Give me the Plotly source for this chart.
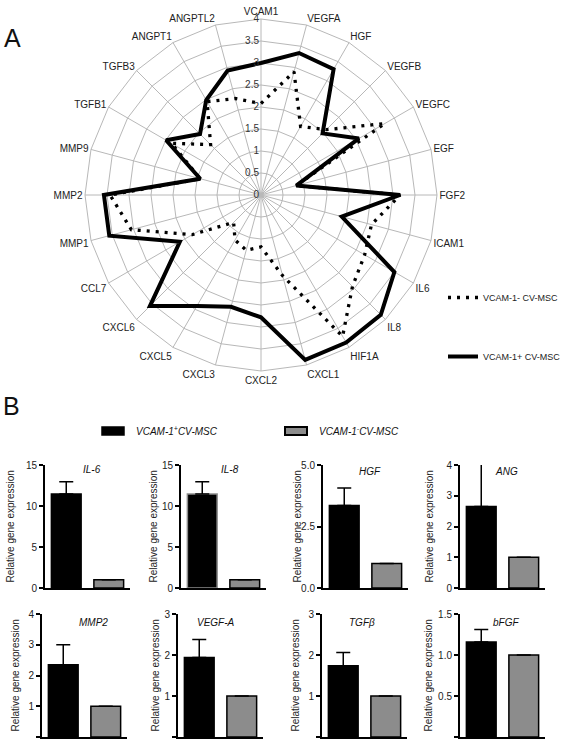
import plotly.graph_objects as go

# ---------------- Panel A data (radar) ----------------
genes = ["VCAM1", "VEGFA", "HGF", "VEGFB", "VEGFC", "EGF", "FGF2", "ICAM1",
         "IL6", "IL8", "HIF1A", "CXCL1", "CXCL2", "CXCL3", "CXCL5", "CXCL6",
         "CCL7", "MMP1", "MMP2", "MMP9", "TGFB1", "TGFB3", "ANGPT1", "ANGPTL2"]
vcam_pos = [3.0, 3.34, 3.3, 1.98, 2.57, 0.83, 3.16, 1.9, 3.5, 3.85, 3.87, 3.88,
            2.78, 2.63, 2.91, 3.57, 2.13, 3.57, 3.57, 1.43, 2.49, 1.96, 2.49, 2.93]
vcam_neg = [2.08, 2.9, 1.8, 2.1, 3.25, 0.83, 3.16, 2.6, 2.72, 2.94, 3.71, 1.9,
            1.18, 1.3, 1.18, 0.88, 1.8, 3.05, 3.43, 1.43, 2.35, 1.62, 2.45, 2.27]
radial_ticks = [0, 0.5, 1, 1.5, 2, 2.5, 3, 3.5, 4]

# ---------------- Panel B data (bars) ----------------
bar_genes = ["IL-6", "IL-8", "HGF", "ANG", "MMP2", "VEGF-A", "TGFβ", "bFGF"]
pos_mean = [11.45, 11.45, 3.35, 2.65, 2.35, 1.94, 1.74, 1.16]
pos_err = [1.5, 1.5, 0.72, 2.0, 0.65, 0.44, 0.32, 0.15]
neg_mean = [1, 1, 1, 1, 1, 1, 1, 1]
y_max = [15, 15, 5, 4, 4, 3, 3, 1.5]
y_dtick = [5, 5, 2.5, 1, 1, 1, 1, 0.5]
y_fmt = ["d", "d", ".1f", "d", "d", "d", "d", ".1f"]

W, H = 567, 742
FONT = "Liberation Sans, Arial, sans-serif"


def px(x):
    return x / W


def py(y):
    return 1 - y / H


fig = go.Figure()

fig.add_trace(go.Scatterpolar(
    r=vcam_neg + [vcam_neg[0]], theta=genes + [genes[0]], mode="lines",
    line=dict(color="black", width=3.3, dash="3px,6px"),
    name="VCAM-1- CV-MSC", legendgroup="neg"))
fig.add_trace(go.Scatterpolar(
    r=vcam_pos + [vcam_pos[0]], theta=genes + [genes[0]], mode="lines",
    line=dict(color="black", width=4),
    name="VCAM-1+ CV-MSC", legendgroup="pos"))

# bar subplot pixel domains
xdom = [(45, 130), (181, 266), (323, 408), (460, 545),
        (42, 127), (178, 263), (322, 407), (460, 545)]
ydom = [(465, 588)] * 4 + [(614, 737)] * 4
title_pos = [(92, 469), (230, 469), (370, 471), (506, 471),
             (93, 622), (216, 622), (362, 622), (506, 622)]
ytitle_x = [10, 153, 297, 429, 15, 155, 295, 428]

layout_axes = {}
annotations = []
for i in range(8):
    k = i + 1
    xa = "x" if k == 1 else f"x{k}"
    ya = "y" if k == 1 else f"y{k}"
    outline = ["#8c8c8c", "#000000"] if bar_genes[i] == "IL-8" else ["#000000", "#000000"]
    fig.add_trace(go.Bar(
        x=[0, 1], y=[pos_mean[i], neg_mean[i]], width=0.7,
        marker=dict(color=["#000000", "#8c8c8c"], line=dict(color=outline, width=1.5)),
        error_y=dict(type="data", symmetric=False, array=[pos_err[i], 0],
                     arrayminus=[0, 0], color="black", thickness=1.5, width=7),
        xaxis=xa, yaxis=ya, showlegend=False, cliponaxis=False))
    x0, x1 = xdom[i]
    y0, y1 = ydom[i]
    layout_axes["xaxis" if k == 1 else f"xaxis{k}"] = dict(
        domain=[px(x0), px(x1)], anchor=ya, range=[-0.5, 1.5],
        showticklabels=False, ticks="", showline=True, linecolor="black",
        linewidth=2, showgrid=False, zeroline=False, fixedrange=True)
    layout_axes["yaxis" if k == 1 else f"yaxis{k}"] = dict(
        domain=[py(y1), py(y0)], anchor=xa, range=[0, y_max[i]],
        tick0=0, dtick=y_dtick[i], tickformat=y_fmt[i], ticks="outside",
        ticklen=4, tickwidth=1.5, tickcolor="black", showline=True,
        linecolor="black", linewidth=2, showgrid=False, zeroline=False,
        tickfont=dict(size=10, color="#222", family=FONT), fixedrange=True)
    tx, ty = title_pos[i]
    annotations.append(dict(text=f"<i>{bar_genes[i]}</i>", x=px(tx), y=py(ty),
                            xref="paper", yref="paper", showarrow=False,
                            xanchor="center", yanchor="middle",
                            font=dict(size=10, color="#111", family=FONT)))
    annotations.append(dict(text="Relative gene expression", x=px(ytitle_x[i]),
                            y=py((y0 + y1) / 2), xref="paper", yref="paper",
                            showarrow=False, textangle=-90, xanchor="center",
                            yanchor="middle",
                            font=dict(size=10, color="#222", family=FONT)))

# panel letters
annotations.append(dict(text="A", x=px(2), y=py(38), xref="paper", yref="paper",
                        showarrow=False, xanchor="left", yanchor="middle",
                        font=dict(size=25, color="#111", family=FONT)))
annotations.append(dict(text="B", x=px(1), y=py(406), xref="paper", yref="paper",
                        showarrow=False, xanchor="left", yanchor="middle",
                        font=dict(size=25, color="#111", family=FONT)))
# panel B legend text
annotations.append(dict(text="<i>VCAM-1<sup>+</sup>CV-MSC</i>", x=px(134), y=py(431),
                        xref="paper", yref="paper", showarrow=False,
                        xanchor="left", yanchor="middle",
                        font=dict(size=10, color="#111", family=FONT)))
annotations.append(dict(text="<i>VCAM-1<sup>-</sup>CV-MSC</i>", x=px(317), y=py(431),
                        xref="paper", yref="paper", showarrow=False,
                        xanchor="left", yanchor="middle",
                        font=dict(size=10, color="#111", family=FONT)))
shapes = [
    dict(type="rect", xref="paper", yref="paper", x0=px(102), x1=px(124),
         y0=py(435), y1=py(427), fillcolor="black", line=dict(color="black", width=1.5)),
    dict(type="rect", xref="paper", yref="paper", x0=px(285), x1=px(307),
         y0=py(435), y1=py(427), fillcolor="#8c8c8c", line=dict(color="black", width=2)),
]

fig.update_layout(
    width=W, height=H, autosize=False,
    margin=dict(l=0, r=0, t=0, b=0, pad=0, autoexpand=False),
    paper_bgcolor="white", plot_bgcolor="white",
    font=dict(family=FONT, color="#222"),
    polar=dict(
        domain=dict(x=[px(261 - 176), px(261 + 176)], y=[py(371), py(19)]),
        bgcolor="white", gridshape="linear",
        radialaxis=dict(range=[0, 4], tickvals=radial_ticks, angle=90,
                        tickangle=90,
                        side="counterclockwise", showline=False, ticks="",
                        gridcolor="#b8b8b8", gridwidth=1,
                        tickfont=dict(size=10, color="#333", family=FONT)),
        angularaxis=dict(direction="clockwise", rotation=90, type="category",
                         categoryarray=genes, gridcolor="#b8b8b8",
                         linecolor="#b8b8b8", linewidth=1, ticks="",
                         tickfont=dict(size=10, color="#222", family=FONT))),
    legend=dict(x=px(443), y=py(283), xanchor="left", yanchor="top",
                tracegroupgap=40, bgcolor="rgba(0,0,0,0)",
                font=dict(size=9, color="#222", family=FONT)),
    annotations=annotations, shapes=shapes,
    **layout_axes)

fig.write_html("out.html",
               config={"displayModeBar": False, "responsive": False},
               post_script="document.body.style.margin='0';document.body.style.overflow='hidden';")
